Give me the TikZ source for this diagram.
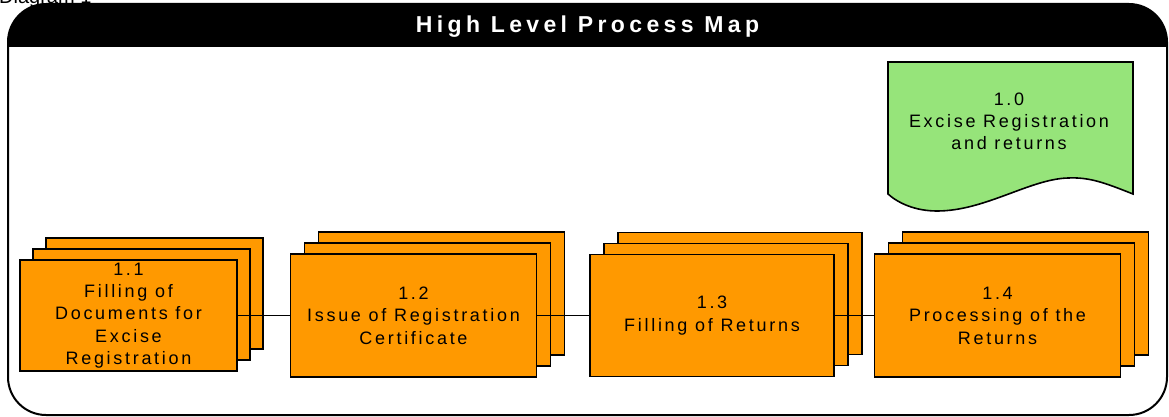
\documentclass[tikz,border=0pt]{standalone}
\usepackage{fontspec}
\setmainfont{Liberation Sans}
\newfontfamily\cardfont[LetterSpace=15]{Liberation Sans}
\newfontfamily\headfont[LetterSpace=19]{Liberation Sans}
\definecolor{cardorange}{RGB}{255,153,0}
\definecolor{docgreen}{RGB}{150,228,122}

% a stack of three process cards: name, cx, cy, width, height, dx, dy, label
\newcommand\procstack[8]{%
  \node[card, minimum width=#4, minimum height=#5] (#1-back) at ({#2+2*(#6)},{#3+2*(#7)}) {};
  \node[card, minimum width=#4, minimum height=#5] (#1-mid) at ({#2+(#6)},{#3+(#7)}) {};
  \node[card, minimum width=#4, minimum height=#5] (#1) at (#2,#3) {#8};
}

\begin{document}
\begin{tikzpicture}[x=1pt, y=-1pt,
  card/.style={rectangle, draw=black, line width=1.8pt, fill=cardorange,
    inner sep=0pt, outer sep=0pt, align=center, text=black,
    font=\cardfont\fontsize{18}{22.4}\selectfont},
  link/.style={draw=black, line width=1.6pt},
  docshape/.style={draw=black, line width=1.6pt, fill=docgreen},
  frame/.style={draw=black, line width=2pt, rounded corners=38pt},
]
\useasboundingbox (0,0) rectangle (1169,417);
\fill[white] (0,0) rectangle (1169,417);

% caption above the frame
\node[anchor=base west, inner sep=0pt, font=\fontsize{20}{24}\selectfont] (caption) at (-1,4) {Diagram 1};

% black header band with rounded top corners
\begin{scope}
  \clip (0,0) rectangle (1169,47);
  \fill[black, rounded corners=38pt] (8,4) rectangle (1167,415);
\end{scope}
\draw[frame] (8,4) rectangle (1167,415);
\node[anchor=base, inner sep=0pt, text=white,
  font=\headfont\fontsize{23}{28}\bfseries\selectfont] (title) at (587.5,33) {High Level Process Map};

% document shape for the overall process
\filldraw[docshape] (888,62) -- (1133,62) -- (1133,194)
  .. controls (1105,183) and (1090,177) .. (1068,178)
  .. controls (1030,179) and (985,211) .. (937,211)
  .. controls (915,211) and (898,203) .. (888,194) -- cycle;
\node[align=center, inner sep=0pt, font=\cardfont\fontsize{18}{22}\selectfont] (p0) at (1009,121)
  {1.0\\Excise Registration\\and returns};

% process card stacks
\procstack{p1}{128.5}{315.5}{217}{111}{13}{-11}{1.1\\Filling of\\Documents for\\Excise\\Registration}
\procstack{p2}{413.5}{315.5}{246}{123}{14}{-11}{1.2\\Issue of Registration\\Certificate}
\procstack{p3}{712}{315.5}{244}{122}{14}{-11}{1.3\\Filling of Returns}
\procstack{p4}{997.5}{315.5}{246}{123}{14}{-11}{1.4\\Processing of the\\Returns}

% connectors between the stages
\draw[link] (p1.east) -- (p2.west);
\draw[link] (p2.east) -- (p3.west);
\draw[link] (p3.east) -- (p4.west);
\end{tikzpicture}
\end{document}
